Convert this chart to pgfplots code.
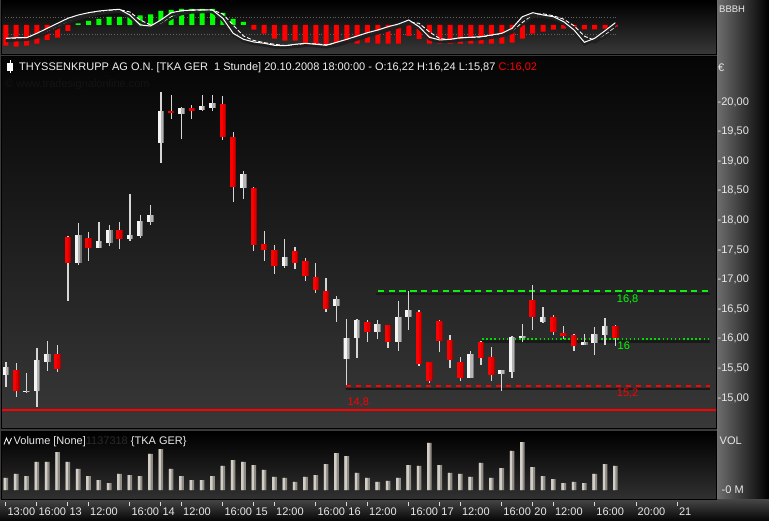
\documentclass[border=0pt]{standalone}
\usepackage{pgfplots}
\pgfplotsset{compat=1.18}
\usepackage{pgfplotstable}
\usepackage{fontspec}
\setmainfont{Liberation Sans}

\definecolor{wick}{HTML}{D6D6D6}
\definecolor{updark}{HTML}{777777}
\definecolor{upmid}{HTML}{B4B4B4}
\definecolor{uplight}{HTML}{F4F4F4}
\definecolor{dndark}{HTML}{A80000}
\definecolor{dnmid}{HTML}{DD0000}
\definecolor{dnlight}{HTML}{FF0000}
\definecolor{lbl}{HTML}{E8E8E8}
\definecolor{sgreen}{HTML}{00FF00}
\definecolor{lgreen}{HTML}{10F010}
\definecolor{dgreen}{HTML}{00DD00}
\definecolor{sred}{HTML}{FF0000}
\definecolor{voldark}{HTML}{8E8A84}
\definecolor{vollight}{HTML}{D2CEC6}
\definecolor{gap}{HTML}{3A3A3A}

\newcommand\tf{\fontsize{11pt}{13pt}\selectfont}

% hourly candles, x = bar number (0 = 10.10. 13:00)
\pgfplotstableread{
x o h l c
0 15.39 15.61 15.19 15.52
2 15.11 15.43 15.09 15.12
3 15.11 15.84 14.84 15.64
4 15.61 15.96 15.46 15.74
7 17.28 17.96 17.25 17.75
9 17.54 17.97 17.54 17.65
10 17.62 17.92 17.56 17.84
12 17.69 18.45 17.65 17.75
13 17.74 18.09 17.71 17.99
14 17.97 18.26 17.92 18.09
15 19.31 20.17 18.97 19.85
17 19.80 19.92 19.38 19.90
19 19.86 20.12 19.84 19.93
20 19.90 20.12 19.84 19.98
23 18.55 18.83 18.36 18.78
27 17.23 17.69 17.20 17.38
32 16.55 16.72 16.28 16.67
33 15.66 16.33 15.22 16.01
34 16.01 16.33 15.68 16.32
36 16.11 16.32 16.00 16.25
38 15.95 16.64 15.79 16.37
39 16.37 16.81 16.15 16.49
45 15.34 15.80 15.33 15.74
48 15.41 15.47 15.11 15.47
49 15.44 16.05 15.33 16.03
50 16.02 16.25 15.95 16.05
52 16.28 16.54 16.27 16.37
56 15.90 16.08 15.90 15.95
57 15.93 16.20 15.72 16.08
58 16.06 16.35 15.90 16.22
}\upc

\pgfplotstableread{
x o h l c
1 15.47 15.59 15.01 15.12
5 15.74 15.90 15.44 15.49
6 17.72 17.74 16.64 17.28
8 17.71 17.80 17.32 17.54
11 17.84 17.97 17.52 17.69
16 19.85 20.12 19.72 19.82
18 19.90 19.95 19.72 19.85
21 19.97 20.10 19.36 19.41
22 19.41 19.49 18.31 18.56
24 18.55 18.56 17.48 17.58
25 17.60 17.82 17.31 17.50
26 17.50 17.58 17.10 17.23
28 17.48 17.55 17.18 17.28
29 17.31 17.37 16.98 17.06
30 17.04 17.28 16.77 16.82
31 16.81 17.03 16.45 16.50
35 16.28 16.32 15.95 16.11
37 16.23 16.23 15.85 15.95
40 16.45 16.49 15.54 15.57
41 15.61 15.61 15.26 15.28
42 16.30 16.32 15.78 15.97
43 15.98 16.06 15.51 15.64
44 15.61 15.70 15.29 15.33
46 15.95 15.97 15.56 15.68
47 15.69 15.86 15.29 15.39
51 16.66 16.91 16.15 16.36
53 16.37 16.40 16.06 16.12
54 16.10 16.22 15.99 16.05
55 16.06 16.08 15.80 15.88
59 16.22 16.24 15.87 16.02
}\dnc

% volume in millions
\pgfplotstableread{
x v
0 0.58
1 0.76
2 0.66
3 1.33
4 1.33
5 1.80
6 1.33
7 1.00
8 0.66
9 0.47
10 0.33
11 0.76
12 0.71
13 0.66
14 1.71
15 1.94
16 1.00
17 0.66
18 0.47
19 0.47
20 0.66
21 1.14
22 1.42
23 1.33
24 1.18
25 0.95
26 0.62
27 0.57
28 0.38
29 0.62
30 0.71
31 1.23
32 1.75
33 1.61
34 0.81
35 0.57
36 0.38
37 0.43
38 0.57
39 1.18
40 1.14
41 2.23
42 1.18
43 0.81
44 0.76
45 0.62
46 1.28
47 0.57
48 1.04
49 1.85
50 2.27
51 1.09
52 0.66
53 0.52
54 0.33
55 0.38
56 0.33
57 0.76
58 1.23
59 1.14
}\vol

% oscillator histogram
\pgfplotstableread{
x v
7 1.5
8 4
9 6
10 8
11 8
12 10
13 9.5
14 10.5
15 14
16 15
17 16
18 16
19 16
20 16
21 12
22 6
23 3
}\histpos

\pgfplotstableread{
x v
0 -20.7
1 -21.7
2 -20.7
3 -18.7
4 -15
5 -12.7
6 -6
24 -4.7
25 -8.7
26 -13.7
27 -15.7
28 -15.7
29 -18.7
30 -19.7
31 -20.7
32 -20.7
33 -18.7
34 -18.7
35 -17.7
36 -18.7
37 -18.7
38 -18.7
39 -11
40 -14
41 -18.7
42 -18.7
43 -18.7
44 -18.7
45 -18.7
46 -18.7
47 -18.7
48 -18.7
49 -17.7
50 -13.7
51 -8.7
52 -6.7
53 -4.7
54 -3.7
55 -3.7
56 -4.3
57 -4.3
58 -3.7
59 -1.7
}\histneg

% oscillator line m and signal s
\pgfplotstableread{
x m s
0 -13.3 -14
1 -12.7 -13.3
2 -12.7 -12.7
3 -8.3 -10.5
4 -3.3 -6
5 1.7 -1
6 6.7 4
7 10 8
8 12.3 11
9 14 13
10 15 14.5
11 15.7 15.3
12 10 13
13 0 5
14 -1 0
15 5 2
16 12.3 8.5
17 14.3 13
18 15 14.6
19 15 15
20 15 15
21 6.7 11
22 -8.3 0
23 -14.3 -11
24 -17 -15.5
25 -18.3 -17.6
26 -20.3 -19.3
27 -20.7 -20.5
28 -19.3 -20
29 -18.3 -18.8
30 -19.3 -18.8
31 -20.3 -19.8
32 -17.3 -18.8
33 -14.3 -15.8
34 -11 -12.6
35 -7.7 -9.3
36 -5 -6.3
37 -1.7 -3.3
38 1 -0.3
39 5 3
40 -1.7 1.7
41 -12.3 -7
42 -15 -13.6
43 -14.3 -14.6
44 -12.7 -13.5
45 -12.3 -12.5
46 -11.7 -12
47 -10 -10.8
48 -8.3 -9.2
49 -3.3 -5.8
50 8.3 2.5
51 12.3 10.3
52 10 11.2
53 8.3 9.2
54 3.3 5.8
55 -5 -0.8
56 -17.3 -11.2
57 -13.3 -15.3
58 -5.7 -9.5
59 2.3 -1.7
}\osc

\pgfplotsset{
  panel/.style={scale only axis, anchor=south west, width=714pt,
    xmin=-0.3775, xmax=68.74, clip=true},
  wicks/.style={draw=none, mark=none, forget plot,
    error bars/.cd, y dir=both, y explicit, error mark=none,
    error bar style={draw=wick, line width=1.3pt}},
  body/.style 2 args={draw=none, mark=none, forget plot,
    error bars/.cd, y dir=both, y explicit, error mark=none,
    error bar style={draw=#1, line width=#2}},
}

\begin{document}
\begin{tikzpicture}
% frame and panel backgrounds
\fill[gap] (0pt,0pt) rectangle (769pt,520pt);
\shade[left color=black!57, right color=black] (717pt,21pt) rectangle (769pt,520pt);
\shade[top color=black!72, bottom color=black!97] (0pt,0pt) rectangle (769pt,21pt);
\shade[top color=black, bottom color=black!78] (2pt,466pt) rectangle (716pt,519pt);
\shade[top color=black!98, bottom color=black!78] (2pt,92pt) rectangle (716pt,462.5pt);
\shade[top color=black, bottom color=black!81] (2pt,21pt) rectangle (716pt,88pt);
\draw[black, line width=1pt] (1.5pt,465.5pt) rectangle (716.5pt,519.5pt);
\draw[black, line width=1pt] (1.5pt,91.5pt) rectangle (716.5pt,463pt);
\draw[black, line width=1pt] (1.5pt,20.5pt) rectangle (716.5pt,88.5pt);

% oscillator panel
\begin{axis}[panel, at={(2pt,466pt)}, height=53pt, ymin=-29, ymax=24, hide axis]
\addplot[black!62, dotted, line width=0.8pt, forget plot] coordinates {(-0.09,8) (59.2,8)};
\addplot[black!62, dotted, line width=0.8pt, forget plot] coordinates {(-0.09,-9.7) (59.2,-9.7)};
\addplot[ybar, bar width=5pt, bar shift=0pt, fill=sred, draw=none] table[x=x, y=v] {\histneg};
\addplot[ybar, bar width=5pt, bar shift=0pt, fill=sgreen, draw=none] table[x=x, y=v] {\histpos};
\addplot[black!88, line width=2.4pt, forget plot] table[x=x, y expr=\thisrow{s}-2] {\osc};
\addplot[white, line width=0.9pt, dash pattern=on 4pt off 2pt] table[x=x, y=s] {\osc};
\addplot[black!88, line width=2.4pt, forget plot] table[x=x, y expr=\thisrow{m}-2] {\osc};
\addplot[white, line width=1pt] table[x=x, y=m] {\osc};
\end{axis}

% price panel
\begin{axis}[panel, at={(2pt,92pt)}, height=370.5pt,
  ymin=14.493, ymax=20.752,
  axis line style={draw=none}, xtick=\empty,
  ytick={15,15.5,...,20}, yticklabel pos=right, ytick style={draw=none},
  major tick length=0pt,
  /pgf/number format/assume math mode=true,
  yticklabel={-\pgfmathprintnumber[fixed, fixed zerofill, precision=2, use comma]{\tick}},
  yticklabel style={font=\tf, text=lbl, anchor=west, inner sep=0pt, xshift=1.5pt},
]
\addplot[sred, line width=2.4pt, forget plot] coordinates {(-0.3775,14.797) (68.74,14.797)};
\addplot[black!90, line width=2.2pt, forget plot] coordinates {(35.8,16.753) (68.2,16.753)};
\addplot[draw=lgreen, line width=2pt, dash pattern=on 6.5pt off 4.3pt, forget plot] coordinates {(36,16.8) (68.2,16.8)};
\addplot[black!90, line width=2.2pt, forget plot] coordinates {(46,15.953) (68.2,15.953)};
\addplot[draw=dgreen, line width=1.5pt, dash pattern=on 1.5pt off 2.6pt, forget plot] coordinates {(46.1,16) (68.2,16)};
\addplot[black!90, line width=2.2pt, forget plot] coordinates {(32.9,15.153) (68.2,15.153)};
\addplot[draw=sred, line width=1.7pt, dash pattern=on 5pt off 5pt, forget plot] coordinates {(32.95,15.2) (68.2,15.2)};

\addplot[wicks] table[x=x, y expr={(\thisrow{h}+\thisrow{l})/2}, y error expr={(\thisrow{h}-\thisrow{l})/2}] {\upc};
\addplot[wicks] table[x=x, y expr={(\thisrow{h}+\thisrow{l})/2}, y error expr={(\thisrow{h}-\thisrow{l})/2}] {\dnc};

\addplot[body={updark}{6.6pt}] table[x=x, y expr={(\thisrow{o}+\thisrow{c})/2}, y error expr={max(abs(\thisrow{c}-\thisrow{o})/2,0.01)}] {\upc};
\addplot[body={upmid}{5.4pt}] table[x expr=\thisrow{x}-0.058, y expr={(\thisrow{o}+\thisrow{c})/2}, y error expr={max(abs(\thisrow{c}-\thisrow{o})/2,0.01)}] {\upc};
\addplot[body={uplight}{3pt}] table[x expr=\thisrow{x}-0.174, y expr={(\thisrow{o}+\thisrow{c})/2}, y error expr={max(abs(\thisrow{c}-\thisrow{o})/2,0.01)}] {\upc};

\addplot[body={dndark}{6.6pt}] table[x=x, y expr={(\thisrow{o}+\thisrow{c})/2}, y error expr={max(abs(\thisrow{c}-\thisrow{o})/2,0.01)}] {\dnc};
\addplot[body={dnmid}{5.4pt}] table[x expr=\thisrow{x}-0.058, y expr={(\thisrow{o}+\thisrow{c})/2}, y error expr={max(abs(\thisrow{c}-\thisrow{o})/2,0.01)}] {\dnc};
\addplot[body={dnlight}{3pt}] table[x expr=\thisrow{x}-0.174, y expr={(\thisrow{o}+\thisrow{c})/2}, y error expr={max(abs(\thisrow{c}-\thisrow{o})/2,0.01)}] {\dnc};

\node[anchor=west, inner sep=0pt, text=sgreen, font=\tf] at (axis cs:59.13,16.672) {16,8};
\node[anchor=west, inner sep=0pt, text=sgreen, font=\tf] at (axis cs:59.2,15.883) {16};
\node[anchor=west, inner sep=0pt, text=sred, font=\tf] at (axis cs:59.13,15.079) {15,2};
\node[anchor=west, inner sep=0pt, text=sred, font=\tf] at (axis cs:33.05,14.932) {14,8};
\end{axis}

% volume panel with time axis
\begin{axis}[panel, at={(2pt,21pt)}, height=67pt,
  ymin=-0.4265, ymax=2.749,
  axis line style={draw=none},
  xtick={0,3,6,8,12,15,17,21,24,26,30,33,35,39,42,44,48,51,53,57,61,65},
  xticklabels={13:00,16:00,13,12:00,16:00,14,12:00,16:00,15,12:00,16:00,16,12:00,16:00,17,12:00,16:00,20,12:00,16:00,20:00,21},
  xtick pos=left, tick align=outside, major tick length=4pt,
  xtick style={draw=black!15, line width=1pt, yshift=-3pt},
  xticklabel style={font=\tf, text=lbl, anchor=north west, inner sep=0pt, xshift=1.5pt, yshift=-5pt},
  ytick={0}, yticklabels={-0 M}, yticklabel pos=right, ytick style={draw=none},
  yticklabel style={font=\tf, text=lbl, anchor=west, inner sep=0pt, xshift=1.5pt},
]
\addplot[ybar, bar width=4.6pt, bar shift=0pt, fill=voldark, draw=none] table[x=x, y=v] {\vol};
\addplot[ybar, bar width=2.4pt, bar shift=-1.1pt, fill=vollight, draw=none] table[x=x, y=v] {\vol};
\end{axis}

% titles and side labels
\fill[white] (7pt,449pt) rectangle (13pt,457pt);
\draw[white, line width=1pt] (10pt,446.5pt) -- (10pt,459.5pt);
\node[anchor=base west, inner sep=0pt, text=white!94!black, font=\tf] at (19pt,449pt)
  {THYSSENKRUPP AG O.N. [TKA GER\ \ 1 Stunde] 20.10.2008 18:00:00 - O:16,22 H:16,24 L:15,87 \textcolor{sred}{C:16,02}};
\node[anchor=base west, inner sep=0pt, text=black!92, font=\tf] at (5pt,432pt) {© www.tradesignalonline.com};
\node[anchor=base west, inner sep=0pt, text=lbl, font=\tf] at (718pt,448pt) {€};
\node[anchor=base west, inner sep=0pt, text=lbl, font=\fontsize{9.5pt}{11pt}\selectfont] at (719pt,507.5pt) {BBBH};
\node[anchor=base west, inner sep=0pt, text=lbl, font=\tf] at (719.5pt,75.7pt) {VOL};
\draw[white, line width=0.8pt] (4pt,75.5pt) -- (6.5pt,82pt) -- (9pt,76pt) -- (11.5pt,82pt);
\node[anchor=base west, inner sep=0pt, font=\tf] at (13.5pt,75pt)
  {\textcolor{lbl}{Volume [None]}\textcolor{black!84}{1137318} \textcolor{lbl}{\{TKA GER\}}};

\pgfresetboundingbox
\path[use as bounding box] (0pt,0pt) rectangle (769pt,520pt);
\end{tikzpicture}
\end{document}
